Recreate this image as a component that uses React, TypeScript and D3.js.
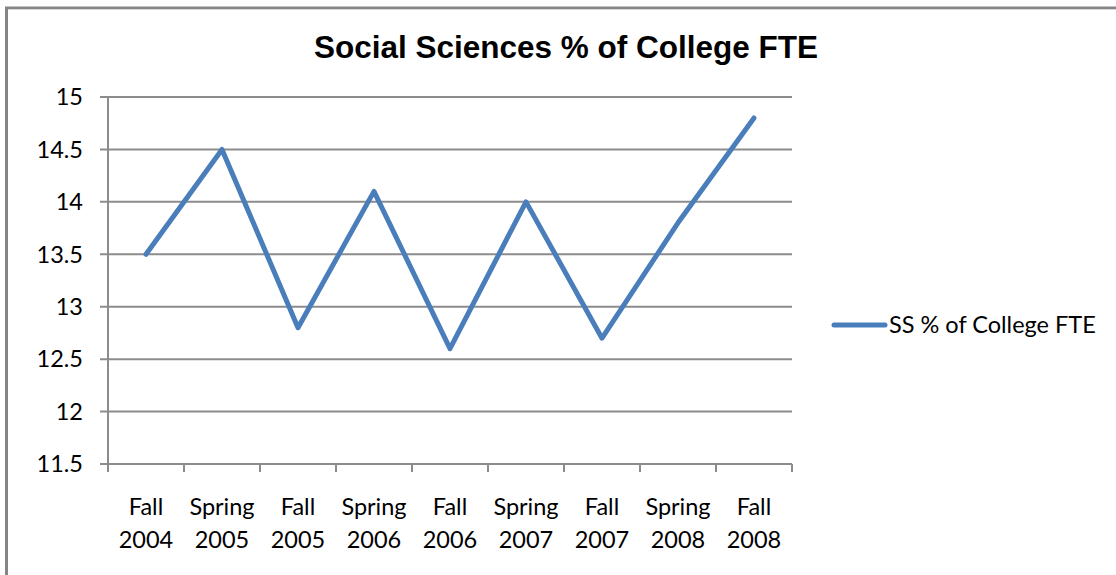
import React from 'react';
import * as d3 from 'd3';

const categories = [
  ['Fall', '2004'], ['Spring', '2005'], ['Fall', '2005'], ['Spring', '2006'], ['Fall', '2006'],
  ['Spring', '2007'], ['Fall', '2007'], ['Spring', '2008'], ['Fall', '2008'],
];
const ssValues = [13.5, 14.5, 12.8, 14.1, 12.6, 14.0, 12.7, 13.8, 14.8];
const yTicks = [11.5, 12, 12.5, 13, 13.5, 14, 14.5, 15];
const seriesName = 'SS % of College FTE';
const title = 'Social Sciences % of College FTE';

const W = 1116;
const H = 575;
const plot = { left: 108, right: 792, top: 97, bottom: 464 };
const labelFont = 'Lato, "Open Sans", sans-serif';
const gridColor = '#8c8c8c';
const lineColor = '#4a7ebb';

const App = () => {
  const keys = categories.map((c) => c.join(' '));
  const x = d3.scaleBand().domain(keys).range([plot.left, plot.right]);
  const y = d3.scaleLinear().domain([11.5, 15]).range([plot.bottom, plot.top]);

  const line = d3.line<number>()
    .x((_, i) => (x(keys[i]) as number) + x.bandwidth() / 2)
    .y((d) => y(d));

  // tick positions on the category axis sit at the band edges
  const edges = keys.map((k) => x(k) as number).concat([plot.right]);

  return (
    <svg width={W} height={H} style={{ position: 'absolute', left: 0, top: 0, background: '#fff' }}>
      <rect x={0} y={0} width={W} height={H} fill="#fff" />
      {/* chart frame */}
      <line x1={6.5} x2={6.5} y1={7} y2={H} stroke="#858585" strokeWidth={3} />
      <line x1={5} x2={W} y1={8} y2={8} stroke="#858585" strokeWidth={3} />
      <line x1={8} x2={W} y1={9.5} y2={9.5} stroke="#d8d8d8" strokeWidth={1} />

      <text x={566} y={58} textAnchor="middle" fontFamily='"Liberation Sans", Arial, sans-serif'
        fontWeight="bold" fontSize={31.5} fill="#000">{title}</text>

      {yTicks.map((t) => (
        <g key={t}>
          <line x1={plot.left - 8} x2={plot.right} y1={y(t)} y2={y(t)} stroke={gridColor} strokeWidth={2} />
          <text x={83} y={y(t)} dy="0.35em" textAnchor="end" fontFamily={labelFont} fontSize={23.5} fill="#000">{t}</text>
        </g>
      ))}
      <line x1={plot.left} x2={plot.left} y1={plot.top} y2={plot.bottom} stroke={gridColor} strokeWidth={2} />
      {edges.map((e, i) => (
        <line key={i} x1={e} x2={e} y1={plot.bottom} y2={plot.bottom + 8} stroke={gridColor} strokeWidth={2} />
      ))}

      {categories.map((c, i) => {
        const cx = (x(keys[i]) as number) + x.bandwidth() / 2;
        return (
          <text key={i} textAnchor="middle" fontFamily={labelFont} fontSize={23.5} fill="#000">
            <tspan x={cx} y={515}>{c[0]}</tspan>
            <tspan x={cx} y={548}>{c[1]}</tspan>
          </text>
        );
      })}

      <path d={line(ssValues) || ''} fill="none" stroke={lineColor} strokeWidth={5}
        strokeLinejoin="round" strokeLinecap="round" />

      <line x1={834} x2={885} y1={325} y2={325} stroke={lineColor} strokeWidth={5} strokeLinecap="round" />
      <text x={889} y={325} dy="0.35em" fontFamily={labelFont} fontSize={23.5} fill="#000">{seriesName}</text>
    </svg>
  );
};

export default App;
